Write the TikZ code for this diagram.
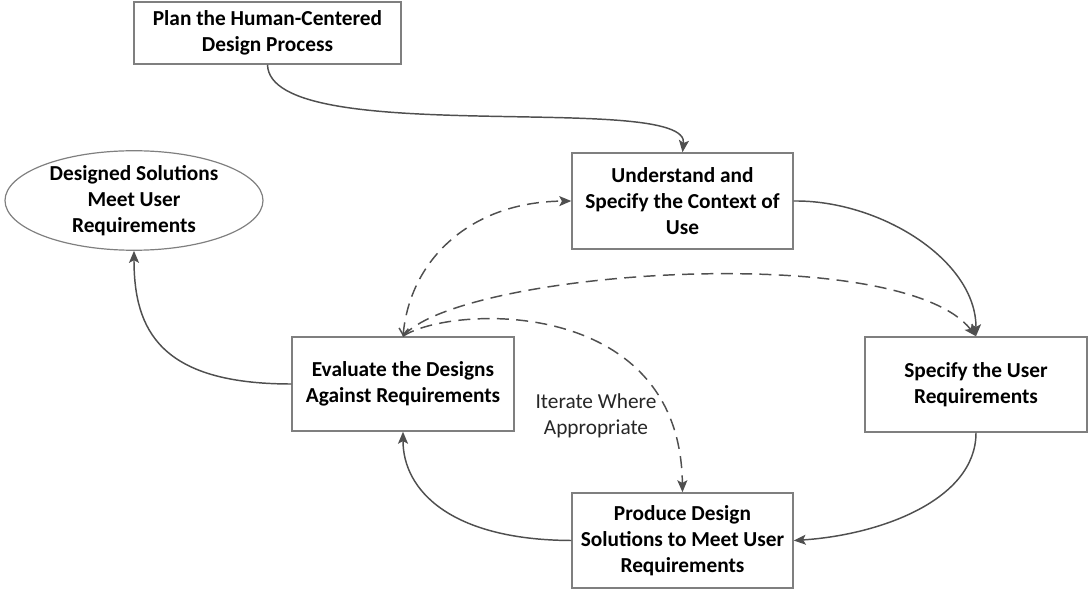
\documentclass[tikz,border=0pt]{standalone}
\usepackage{fontspec}
\setmainfont{Carlito}
\usetikzlibrary{shapes.geometric,arrows.meta}
\definecolor{boxgray}{HTML}{7F7F7F}
\definecolor{linegray}{HTML}{4F4F4F}
\begin{document}
\begin{tikzpicture}[x=0.75pt,y=-0.75pt,
  box/.style={draw=boxgray,line width=1.1pt,align=center,inner sep=0pt,
    font=\bfseries\fontsize{16}{19.5}\selectfont,text=black},
  oval/.style={box,ellipse,line width=0.9pt},
  lbl/.style={align=center,font=\fontsize{16}{19.5}\selectfont,text=black!85},
  conn/.style={draw=linegray,line width=1.1pt,-{Stealth[length=9pt,width=7.5pt,inset=2pt]}},
  dconn/.style={conn,dash pattern=on 9pt off 5.5pt}
]
\useasboundingbox (0,0) rectangle (1089,591);
\node[box,minimum width=200.25pt,minimum height=46.5pt] (plan) at (267.5,33) {Plan the Human-Centered\\Design Process};
\node[box,minimum width=165.75pt,minimum height=72pt] (und) at (682.5,201) {Understand and\\Specify the Context of\\Use};
\node[oval,minimum width=193.5pt,minimum height=71.25pt] (done) at (134,200.5) {Designed Solutions\\Meet User\\Requirements};
\node[box,minimum width=166.5pt,minimum height=70.5pt] (eval) at (403,384) {Evaluate the Designs\\Against Requirements};
\node[box,minimum width=166.5pt,minimum height=71.25pt] (spec) at (976,384.5) {Specify the User\\Requirements};
\node[box,minimum width=165.75pt,minimum height=71.25pt] (prod) at (682.5,540.5) {Produce Design\\Solutions to Meet User\\Requirements};
\node[lbl] (iter) at (596,416) {Iterate Where\\Appropriate};

\draw[conn] (plan.south) .. controls (270,150) and (690,90) .. (und.north);
\draw[conn] (und.east) .. controls (880,200) and (976,260) .. (spec.north);
\draw[conn] (spec.south) .. controls (976,500) and (880,535) .. (prod.east);
\draw[conn] (prod.west) .. controls (450,540) and (403,490) .. (eval.south);
\draw[conn] (eval.west) .. controls (160,384) and (134,330) .. (done.south);

\draw[dconn,{Straight Barb[length=5pt,width=7pt]}-{Stealth[length=9pt,width=7.5pt,inset=2pt]}] (eval.north) .. controls (410,260) and (470,202) .. (und.west);
\draw[dconn] (eval.north) .. controls (460,270) and (900,240) .. (spec.north);
\draw[dconn] (eval.north) .. controls (450,305) and (680,295) .. (prod.north);
\end{tikzpicture}
\end{document}
